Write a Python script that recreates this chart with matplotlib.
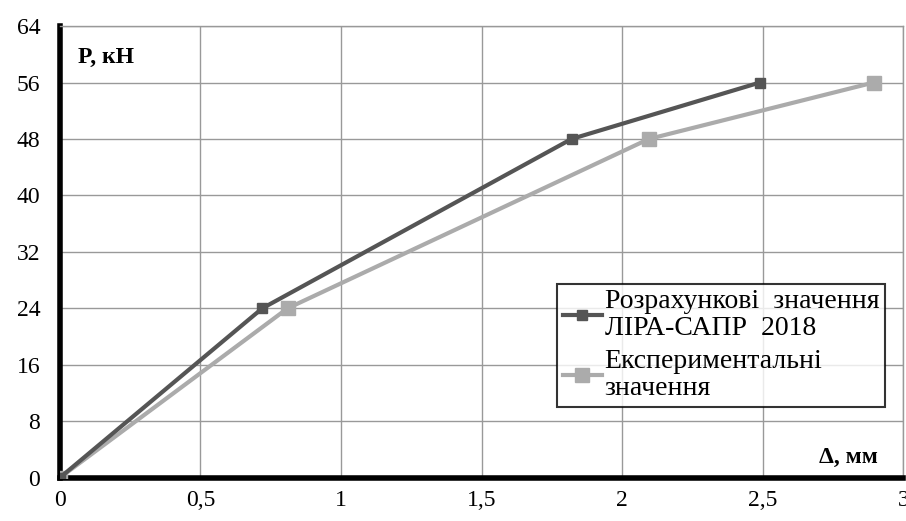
import numpy as np
import matplotlib.pyplot as plt

plt.rcParams['font.family'] = ['Liberation Serif', 'DejaVu Serif']

# прогини, мм і навантаження, кН
delta_calc = [0, 0.72, 1.82, 2.49]
P_calc = [0, 24, 48, 56]
delta_exp = [0, 0.81, 2.095, 2.895]
P_exp = [0, 24, 48, 56]

x_ticks = [0, 0.5, 1, 1.5, 2, 2.5, 3]
x_labels = ['0', '0,5', '1', '1,5', '2', '2,5', '3']
y_ticks = [0, 8, 16, 24, 32, 40, 48, 56, 64]

fig = plt.figure(figsize=(9.06, 5.21), dpi=100)
ax = fig.add_axes([0.066, 0.083, 0.931, 0.867])

ax.plot(delta_calc, P_calc, color='#555555', lw=3, marker='s', ms=7,
        label='Розрахункові  значення\nЛІРА-САПР  2018', zorder=4)
ax.plot(delta_exp, P_exp, color='#ababab', lw=3, marker='s', ms=10,
        label='Експериментальні\nзначення', zorder=3)

ax.set_xlim(0, 3)
ax.set_ylim(0, 64)
ax.set_xticks(x_ticks)
ax.set_xticklabels(x_labels)
ax.set_yticks(y_ticks)
ax.tick_params(labelsize=17, length=0)
ax.tick_params(axis='x', pad=9)
ax.tick_params(axis='y', pad=14)
ax.grid(True, color='#999999', lw=1)
ax.set_axisbelow(True)

for s in ['top', 'right']:
    ax.spines[s].set_color('#999999')
    ax.spines[s].set_linewidth(1)
ax.spines['left'].set_linewidth(4)
ax.spines['bottom'].set_linewidth(4)

ax.text(0.022, 0.93, 'P, кН', transform=ax.transAxes, fontsize=17,
        fontweight='bold', va='center', ha='left')
ax.text(0.97, 0.045, 'Δ, мм', transform=ax.transAxes, fontsize=17,
        fontweight='bold', va='center', ha='right')

leg = ax.legend(loc='upper left', bbox_to_anchor=(0.59, 0.43), fontsize=20,
                frameon=True, fancybox=False, handlelength=1.4,
                handletextpad=0.1, borderpad=0.2, labelspacing=0.3,
                borderaxespad=0)
for t in leg.get_texts():
    t.set_linespacing(1.1)
leg.get_frame().set_edgecolor('black')
leg.get_frame().set_linewidth(1.5)

fig.savefig('out.png', dpi=100)
